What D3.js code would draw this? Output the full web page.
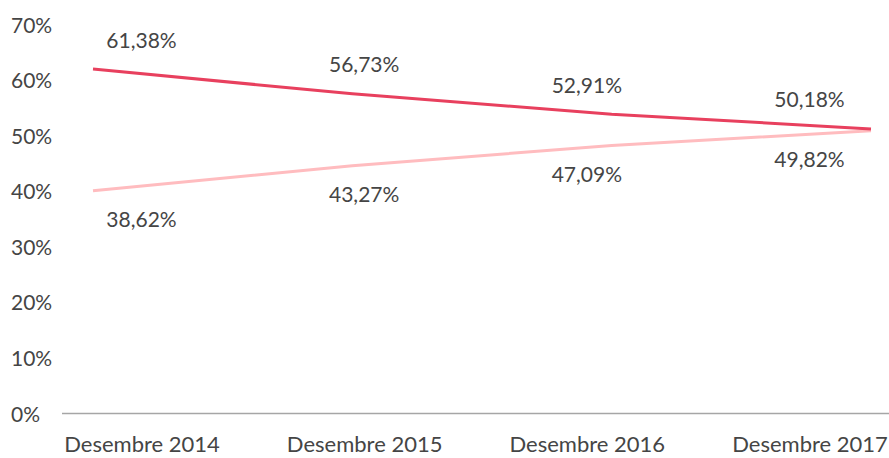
<!DOCTYPE html>
<html>
<head>
<meta charset="utf-8">
<script src="https://cdn.jsdelivr.net/npm/d3@7"></script>
<style>
  html, body { margin: 0; padding: 0; background: #fff; }
  text { font-family: Lato, "Open Sans", sans-serif; fill: #454545; }
</style>
</head>
<body>
<div id="chart"></div>
<script>
const categories = ['Desembre 2014', 'Desembre 2015', 'Desembre 2016', 'Desembre 2017'];
const seriesA = [61.38, 56.73, 52.91, 50.18];
const seriesB = [38.62, 43.27, 47.09, 49.82];
const yTicks = [0, 10, 20, 30, 40, 50, 60, 70];

const width = 889, height = 458;
const colorA = '#e8405e', colorB = '#ffbcbf';
const fmt = v => v.toFixed(2).replace('.', ',') + '%';

const svg = d3.select('#chart').append('svg')
  .attr('width', width)
  .attr('height', height);

// axis scale (labels) and the scales the lines are drawn on
const y = d3.scaleLinear().domain([0, 70]).range([413.5, 24.5]);
const yLine = d3.scaleLinear().domain([0, 70]).range([397.2, 22.9]);
const xLabel = d3.scalePoint().domain(categories).range([141.5, 809.5]);
const xLine = d3.scalePoint().domain(categories).range([93, 871]);

/* y axis labels */
const yAxis = d3.axisLeft(y)
  .tickValues(yTicks)
  .tickSize(0)
  .tickFormat(d => d + '%');
const yGroup = svg.append('g').attr('class', 'y axis').call(yAxis);
yGroup.select('.domain').remove();
yGroup.selectAll('text')
  .attr('x', 11)
  .attr('dy', '0.36em')
  .style('text-anchor', 'start')
  .style('font-size', '21px')
  .attr('fill', '#454545');

/* baseline */
svg.append('line')
  .attr('x1', 62).attr('x2', 889)
  .attr('y1', y(0)).attr('y2', y(0))
  .style('stroke', '#a6a6a6')
  .style('stroke-width', 1.3);

/* x axis labels */
const xAxis = d3.axisBottom(xLabel).tickSize(0).tickPadding(0);
const xGroup = svg.append('g')
  .attr('class', 'x axis')
  .attr('transform', 'translate(0, 444)')
  .call(xAxis);
xGroup.select('.domain').remove();
xGroup.selectAll('text')
  .attr('y', 0)
  .attr('dy', '0.36em')
  .style('font-size', '22px')
  .attr('fill', '#454545');

/* lines */
const series = [
  { values: seriesA, color: colorA, dy: -29 },
  { values: seriesB, color: colorB, dy: 29 },
];
const line = d3.line()
  .x((d, i) => xLine(categories[i]))
  .y(d => yLine(d));

// light line under the dark one
series.slice().reverse().forEach(s => {
  svg.append('path')
    .datum(s.values)
    .attr('d', line)
    .style('fill', 'none')
    .style('stroke', s.color)
    .style('stroke-width', 3)
    .style('stroke-linejoin', 'round');
});

/* data labels */
series.forEach(s => {
  svg.append('g')
    .selectAll('text')
    .data(s.values)
    .enter().append('text')
    .attr('x', (d, i) => xLabel(categories[i]))
    .attr('y', d => yLine(d) + s.dy)
    .attr('dy', '0.36em')
    .style('text-anchor', 'middle')
    .style('font-size', '21px')
    .text(fmt);
});
</script>
</body>
</html>
